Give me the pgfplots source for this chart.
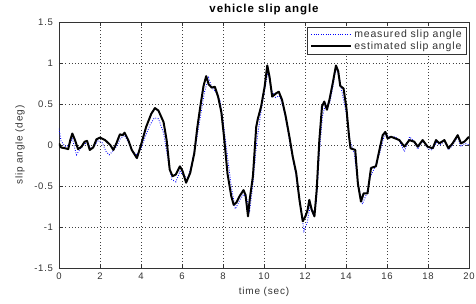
\documentclass[border=0pt]{standalone}
\usepackage{pgfplots}
\pgfplotsset{compat=1.18}
\usetikzlibrary{calc}
\usepackage{fontspec}
\setmainfont{Liberation Sans}[LetterSpace=8]
\pgfplotstableread{
t v
0 0.2
0.1 0.05
0.3 -0.02
0.5 0.0
0.65 0.08
0.85 -0.12
1.0 -0.06
1.2 0.0
1.4 0.04
1.55 -0.05
1.7 -0.02
1.9 0.05
2.1 0.03
2.3 -0.08
2.45 -0.12
2.6 -0.08
2.8 -0.02
3.0 0.08
3.2 0.12
3.4 0.02
3.6 -0.08
3.8 -0.12
4.0 -0.05
4.2 0.1
4.45 0.25
4.65 0.33
4.85 0.32
5.1 0.15
5.3 -0.15
5.5 -0.42
5.7 -0.45
5.9 -0.32
6.1 -0.38
6.3 -0.4
6.5 -0.2
6.7 0.05
6.9 0.35
7.1 0.65
7.3 0.82
7.45 0.7
7.65 0.65
7.85 0.55
8.0 0.3
8.2 -0.1
8.4 -0.5
8.6 -0.78
8.8 -0.68
9.0 -0.6
9.15 -0.65
9.3 -0.8
9.45 -0.5
9.65 0.05
9.85 0.4
10.05 0.7
10.2 0.9
10.35 0.68
10.55 0.58
10.75 0.6
10.95 0.45
11.15 0.2
11.35 -0.1
11.55 -0.35
11.75 -0.7
11.95 -1.05
12.1 -0.95
12.25 -0.75
12.4 -0.85
12.55 -0.7
12.7 -0.1
12.85 0.35
13.0 0.5
13.2 0.5
13.35 0.7
13.5 0.93
13.65 0.85
13.8 0.65
14.0 0.4
14.2 0.05
14.4 -0.1
14.6 -0.5
14.8 -0.72
15.0 -0.6
15.2 -0.38
15.45 -0.25
15.7 -0.05
15.9 0.15
16.1 0.1
16.4 0.1
16.6 0.05
16.85 -0.08
17.1 0.1
17.3 0.05
17.5 -0.05
17.75 0.05
18.0 -0.05
18.2 -0.06
18.4 0.03
18.6 0.0
18.8 0.05
19.0 -0.06
19.2 0.0
19.45 0.1
19.6 -0.02
19.8 0.02
20 0.0
}\measured
\pgfplotstableread{
t v
0 0.02
0.1 -0.03
0.3 -0.04
0.45 -0.05
0.55 0.06
0.65 0.14
0.78 0.06
0.93 -0.05
1.1 -0.02
1.25 0.04
1.37 0.05
1.5 -0.06
1.67 -0.03
1.83 0.07
2.0 0.09
2.25 0.06
2.5 0.0
2.65 -0.06
2.8 0.02
2.97 0.13
3.1 0.12
3.2 0.15
3.38 0.06
3.55 -0.06
3.8 -0.16
4.0 0.0
4.25 0.22
4.5 0.38
4.68 0.45
4.85 0.42
5.1 0.28
5.25 0.06
5.4 -0.3
5.54 -0.38
5.7 -0.36
5.9 -0.26
6.03 -0.32
6.2 -0.46
6.4 -0.34
6.6 -0.1
6.75 0.22
6.9 0.48
7.05 0.72
7.18 0.84
7.3 0.74
7.45 0.70
7.6 0.71
7.76 0.59
7.92 0.4
8.05 0.1
8.22 -0.35
8.4 -0.62
8.52 -0.73
8.66 -0.70
8.82 -0.62
9.0 -0.55
9.1 -0.61
9.22 -0.87
9.3 -0.67
9.46 -0.38
9.62 0.22
9.7 0.32
9.86 0.47
10.03 0.71
10.16 0.97
10.27 0.83
10.4 0.59
10.59 0.63
10.72 0.65
10.88 0.55
11.05 0.36
11.24 0.1
11.4 -0.14
11.57 -0.34
11.73 -0.67
11.89 -0.93
12.02 -0.87
12.13 -0.79
12.21 -0.67
12.33 -0.79
12.46 -0.87
12.57 -0.55
12.7 0.06
12.83 0.47
12.94 0.53
13.07 0.43
13.19 0.55
13.35 0.75
13.51 0.97
13.62 0.9
13.72 0.72
13.88 0.69
14.02 0.45
14.15 0.1
14.22 -0.04
14.45 -0.06
14.58 -0.47
14.73 -0.69
14.86 -0.59
15.05 -0.59
15.22 -0.28
15.46 -0.26
15.63 -0.06
15.79 0.12
15.92 0.16
16.03 0.08
16.2 0.1
16.41 0.08
16.6 0.06
16.85 -0.02
17.09 0.06
17.33 0.04
17.5 -0.02
17.74 0.06
17.98 -0.02
18.23 -0.04
18.39 0.06
18.55 0.02
18.8 0.06
19.0 -0.04
19.2 0.02
19.45 0.12
19.61 0.02
19.77 0.04
20.0 0.1
}\estimated
\begin{document}
\begin{tikzpicture}
\begin{axis}[
  scale only axis,
  width=410pt, height=246pt,
  xmin=0, xmax=20, ymin=-1.5, ymax=1.5,
  xtick={0,2,...,20},
  xticklabels={0,2,4,6,8,10,12,14,16,18,20},
  ytick={-1.5,-1,-0.5,0,0.5,1,1.5},
  yticklabels={-1.5,-1,-0.5,0,0.5,1,1.5},
  grid=major,
  major grid style={black!75, dash pattern=on 0.8pt off 2.4pt, line width=0.5pt},
  tick align=inside,
  major tick length=4pt,
  axis line style={black!80, line width=0.6pt},
  tick style={black!80, line width=0.6pt},
  ticklabel style={font=\fontsize{9.5}{11}\selectfont, text=black!80},
  xticklabel style={anchor=north, yshift=-1.8pt},
  yticklabel style={anchor=east, xshift=-2.5pt},
  xlabel={time (sec)},
  ylabel={slip angle (deg)},
  xlabel style={font=\fontsize{10}{11}\selectfont, text=black!80,
    at={($(axis description cs:0.5,0)+(0,-24pt)$)}, anchor=center},
  ylabel style={font=\fontsize{10}{11}\selectfont, text=black!80,
    at={($(axis description cs:0,0.5)+(-39pt,0)$)}, anchor=center},
  legend style={at={($(axis description cs:1,1)+(-2pt,-5pt)$)}, anchor=north east,
    font=\fontsize{10.5}{12}\selectfont, draw=black!80, line width=0.6pt,
    inner xsep=3pt, inner ysep=1pt, row sep=-1.5pt, text=black!80},
  legend cell align=left,
  legend image code/.code={\draw[#1] (0pt,0pt) -- (40pt,0pt);},
]
\addplot[blue, dash pattern=on 0.8pt off 1.6pt, line width=0.9pt] table[x=t,y=v] {\measured};
\addlegendentry{measured slip angle}
\addplot[black, line width=2pt, line join=round] table[x=t,y=v] {\estimated};
\addlegendentry{estimated slip angle}
\end{axis}
\node[anchor=base, inner sep=0pt, font=\fontsize{11.5}{13}\selectfont\bfseries] at (205pt,255pt) {vehicle slip angle};
\pgfresetboundingbox
\path[use as bounding box] (-59pt,-35pt) rectangle (417pt,268pt);
\end{tikzpicture}
\end{document}
